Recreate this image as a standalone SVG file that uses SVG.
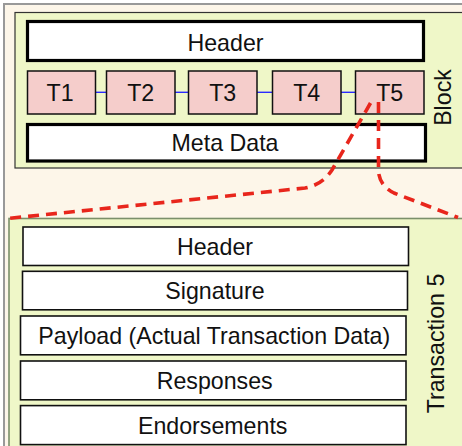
<svg xmlns="http://www.w3.org/2000/svg" width="462" height="446" viewBox="0 0 462 446">
  <style>
    text { font-family: "Liberation Sans", Arial, sans-serif; font-size: 23.2px; fill: #111; text-anchor: middle; }
    .frame { fill: #eff7c8; }
    .thick { fill: #fff; stroke: #000; stroke-width: 3.2; }
    .thin { fill: #fff; stroke: #111; stroke-width: 1.6; }
    .tx { fill: #f5cdcb; stroke: #111; stroke-width: 1.5; }
    .link { stroke: #2a2aff; stroke-width: 1.4; fill: none; }
    .zoom { stroke: #e8261c; stroke-width: 3.6; fill: none; stroke-dasharray: 11 7; }
  </style>

  <!-- page background and outer frame -->
  <rect x="0" y="0" width="462" height="446" fill="#fff"/>
  <rect x="4" y="4" width="470" height="450" fill="#fdf6e9" stroke="#999" stroke-width="2"/>

  <!-- block container -->
  <g id="block">
    <rect class="frame" x="15" y="12.5" width="460" height="155.5" stroke="#333" stroke-width="1.2"/>
    <text transform="translate(450.5,97.5) rotate(-90)">Block</text>
  </g>

  <g id="block-header">
    <rect class="thick" x="27.5" y="21.5" width="396" height="39"/>
    <text x="225.5" y="50.8">Header</text>
  </g>

  <g id="block-connectors">
    <line class="link" x1="95" y1="92.3" x2="106" y2="92.3"/>
    <line class="link" x1="175" y1="92.3" x2="188" y2="92.3"/>
    <line class="link" x1="257" y1="92.3" x2="272" y2="92.3"/>
    <line class="link" x1="341" y1="92.3" x2="355" y2="92.3"/>
  </g>

  <g id="t1">
    <rect class="tx" x="27.5" y="71" width="68" height="43"/>
    <text x="60" y="100.7">T1</text>
  </g>
  <g id="t2">
    <rect class="tx" x="106.5" y="71" width="68.5" height="43"/>
    <text x="140.7" y="100.7">T2</text>
  </g>
  <g id="t3">
    <rect class="tx" x="188.5" y="71" width="68.5" height="43"/>
    <text x="222.7" y="100.7">T3</text>
  </g>
  <g id="t4">
    <rect class="tx" x="272.5" y="71" width="68.5" height="43"/>
    <text x="306.7" y="100.7">T4</text>
  </g>
  <g id="t5">
    <rect class="tx" x="355.5" y="71" width="68.5" height="43"/>
    <text x="389.7" y="100.7">T5</text>
  </g>

  <g id="meta-data">
    <rect class="thick" x="27.5" y="124.5" width="398" height="36.5"/>
    <text x="225" y="151.3">Meta Data</text>
  </g>

  <!-- transaction 5 detail container -->
  <g id="transaction-5">
    <rect class="frame" x="9" y="218.5" width="470" height="240" stroke="#7b8f6a" stroke-width="1.6"/>
    <text transform="translate(443.5,343.5) rotate(-90)">Transaction 5</text>
  </g>

  <g id="tx-header">
    <rect class="thin" x="23" y="227" width="385.5" height="38.5"/>
    <text x="215" y="254.8">Header</text>
  </g>
  <g id="tx-signature">
    <rect class="thin" x="22.5" y="271.3" width="385" height="38.5"/>
    <text x="215" y="299.3">Signature</text>
  </g>
  <g id="tx-payload">
    <rect class="thin" x="20.5" y="316" width="385.5" height="38.8"/>
    <text x="214.3" y="344.1">Payload (Actual Transaction Data)</text>
  </g>
  <g id="tx-responses">
    <rect class="thin" x="20.5" y="361" width="385.5" height="38.8"/>
    <text x="214.7" y="389">Responses</text>
  </g>
  <g id="tx-endorsements">
    <rect class="thin" x="20.5" y="405.6" width="385.5" height="39"/>
    <text x="212.7" y="433.7">Endorsements</text>
  </g>

  <!-- expansion lines from T5 to its detail -->
  <g id="connectors">
    <path class="zoom" d="M 370.5 103 L 332 170 Q 322 185 305 188 L 7 218.5"/>
    <path class="zoom" d="M 378.5 102 L 378.5 172 Q 380 186 394 193 L 458 217.5"/>
  </g>
</svg>
